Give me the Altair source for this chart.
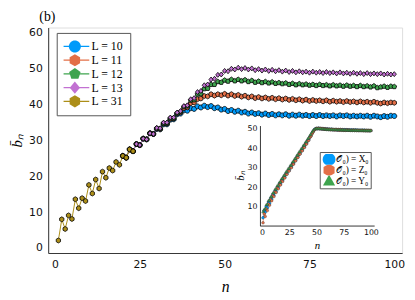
import altair as alt
import pandas as pd

# ---------------- main panel data ----------------
labels_main = ["L = 10", "L = 11", "L = 12", "L = 13", "L = 31"]
keys_main = ["10", "11", "12", "13", "31"]
colors_main = ["#009AFA", "#E36F47", "#3EA44E", "#C271D2", "#AC8E18"]

n_start_main = 20  # L = 10..13 drawn from n = 20 (hidden beneath L = 31 before)
b_L10 = [25.7, 25.2, 27.5, 27.0, 29.0, 28.7, 30.5, 30.3, 32.0, 31.8,
         33.2, 33.1, 34.5, 34.5, 35.8, 35.9, 37.3, 37.5, 38.4, 38.3,
         39.0, 38.8, 39.5, 39.2, 39.7, 39.3, 39.6, 39.0, 39.2, 38.6,
         38.8, 38.2, 38.5, 38.0, 38.3, 37.8, 38.0, 37.5, 37.8, 37.4,
         37.6, 37.2, 37.5, 37.1, 37.4, 37.0, 37.3, 37.0, 37.3, 36.9,
         37.2, 36.9, 37.2, 36.9, 37.1, 36.8, 37.1, 36.8, 37.1, 36.8,
         37.0, 36.8, 37.0, 36.7, 37.0, 36.8, 37.0, 36.7, 36.9, 36.7,
         36.9, 36.7, 36.9, 36.6, 36.9, 36.7, 36.5, 36.8, 36.6, 36.9,
         36.8]
b_L11 = [25.7, 25.2, 27.5, 27.0, 29.0, 28.7, 30.5, 30.3, 32.0, 31.8,
         33.3, 33.2, 34.7, 34.7, 36.0, 36.1, 37.5, 37.8, 39.0, 39.2,
         40.4, 40.6, 41.5, 41.7, 42.4, 42.3, 42.9, 42.5, 42.9, 42.6,
         43.0, 42.5, 42.9, 42.4, 42.7, 42.2, 42.5, 42.0, 42.3, 41.8,
         42.1, 41.7, 42.0, 41.6, 41.9, 41.5, 41.8, 41.4, 41.7, 41.3,
         41.6, 41.2, 41.5, 41.1, 41.4, 41.0, 41.3, 41.0, 41.2, 40.9,
         41.2, 40.8, 41.1, 40.8, 41.0, 40.7, 41.0, 40.7, 40.9, 40.6,
         40.9, 40.6, 40.8, 40.5, 40.8, 40.5, 40.3, 40.6, 40.4, 40.6,
         40.5]
b_L12 = [25.7, 25.2, 27.5, 27.0, 29.0, 28.7, 30.5, 30.3, 32.0, 31.8,
         33.4, 33.3, 34.8, 34.8, 36.2, 36.2, 37.6, 38.0, 39.4, 39.6,
         41.2, 41.3, 42.9, 43.0, 44.4, 44.5, 45.6, 45.6, 46.4, 46.2,
         46.8, 46.5, 47.0, 46.6, 47.0, 46.6, 46.9, 46.4, 46.7, 46.2,
         46.5, 46.1, 46.4, 46.0, 46.3, 45.9, 46.1, 45.8, 46.0, 45.6,
         45.9, 45.5, 45.8, 45.5, 45.7, 45.4, 45.6, 45.3, 45.6, 45.3,
         45.5, 45.2, 45.5, 45.2, 45.4, 45.1, 45.4, 45.1, 45.3, 45.0,
         45.3, 45.0, 45.2, 44.9, 45.2, 44.7, 44.9, 45.1, 44.8, 45.1,
         45.0]
b_L13 = [25.7, 25.2, 27.5, 27.0, 29.0, 28.7, 30.5, 30.3, 32.0, 31.8,
         33.5, 33.4, 35.0, 35.0, 36.4, 36.4, 37.8, 38.2, 39.6, 39.8,
         41.5, 41.8, 43.5, 43.8, 45.4, 45.6, 47.0, 47.2, 48.3, 48.4,
         49.4, 49.3, 50.0, 49.8, 50.3, 49.9, 50.2, 49.8, 50.1, 49.6,
         49.9, 49.5, 49.8, 49.4, 49.7, 49.3, 49.6, 49.2, 49.5, 49.1,
         49.4, 49.0, 49.3, 49.0, 49.2, 48.9, 49.2, 48.9, 49.1, 48.8,
         49.1, 48.8, 49.0, 48.7, 49.0, 48.7, 48.9, 48.6, 48.9, 48.6,
         48.8, 48.5, 48.8, 48.5, 48.7, 48.5, 48.7, 48.4, 48.6, 48.4,
         48.5]
b_L31 = [2.1, 8.0, 5.3, 9.1, 8.1, 13.6, 11.1, 13.9, 13.1, 17.6,
         15.2, 19.1, 16.6, 21.3, 19.6, 22.3, 21.6, 24.0, 23.2, 25.7,
         25.2, 27.5, 27.0]

# ---------------- inset data ----------------
labels_inset = ["𝒪₀) = X₀", "𝒪₀) = Z₀", "𝒪₀) = Y₀"]
colors_inset = ["#009AFA", "#E36F47", "#3EA44E"]
b_X = [4.5, 8.2, 7.4, 10.3, 9.6, 12.5, 11.8, 14.3, 13.9, 16.4,
       15.9, 18.2, 17.9, 20.0, 19.8, 21.8, 21.6, 23.5, 23.4, 25.2,
       25.1, 26.9, 26.9, 28.5, 28.6, 30.2, 30.3, 31.9, 32.0, 33.6,
       33.7, 35.3, 35.4, 37.0, 37.1, 38.7, 38.8, 40.4, 40.5, 42.1,
       42.3, 43.8, 44.2, 45.6, 46.2, 47.5, 48.4, 49.3, 49.7, 50.0,
       49.8, 50.1, 49.8, 50.0, 49.7, 49.9, 49.6, 49.8, 49.5, 49.7,
       49.4, 49.6, 49.4, 49.6, 49.3, 49.5, 49.3, 49.5, 49.2, 49.4,
       49.2, 49.4, 49.2, 49.3, 49.1, 49.3, 49.1, 49.3, 49.1, 49.2,
       49.0, 49.2, 49.0, 49.2, 49.0, 49.2, 49.0, 49.1, 48.9, 49.1,
       48.9, 49.1, 48.9, 49.1, 48.9, 49.0, 48.9, 49.0, 48.8, 49.0]
b_Z = [2.0, 6.6, 5.2, 9.1, 8.2, 11.6, 10.9, 13.8, 13.2, 15.9,
       15.3, 17.8, 17.4, 19.7, 19.3, 21.5, 21.2, 23.2, 23.0, 24.9,
       24.8, 26.6, 26.6, 28.3, 28.3, 30.0, 30.0, 31.7, 31.8, 33.4,
       33.5, 35.1, 35.2, 36.8, 36.9, 38.5, 38.6, 40.2, 40.3, 41.9,
       42.0, 43.6, 43.9, 45.4, 46.0, 47.3, 48.2, 49.2, 49.6, 50.0,
       49.9, 50.1, 49.8, 50.0, 49.7, 49.9, 49.6, 49.8, 49.5, 49.7,
       49.5, 49.6, 49.3, 49.6, 49.3, 49.4, 49.2, 49.5, 49.2, 49.4,
       49.1, 49.4, 49.1, 49.3, 49.1, 49.2, 49.0, 49.3, 49.0, 49.2,
       49.0, 49.1, 49.0, 49.2, 48.9, 49.1, 48.9, 49.1, 48.9, 49.0,
       48.9, 49.1, 48.8, 49.0, 48.8, 49.0, 48.8, 49.0, 48.8, 48.9]
b_Y = [7.6, 8.6, 9.4, 11.2, 11.4, 13.3, 13.4, 15.2, 15.3, 17.1,
       17.2, 19.0, 19.1, 20.8, 20.9, 22.6, 22.7, 24.4, 24.5, 26.1,
       26.2, 27.8, 27.9, 29.5, 29.6, 31.2, 31.3, 32.9, 33.0, 34.6,
       34.7, 36.3, 36.4, 38.0, 38.1, 39.7, 39.8, 41.4, 41.5, 43.1,
       43.2, 44.8, 45.1, 46.5, 47.0, 48.2, 48.9, 49.5, 49.8, 50.0,
       49.9, 50.0, 49.8, 49.9, 49.7, 49.8, 49.6, 49.7, 49.5, 49.6,
       49.4, 49.5, 49.4, 49.5, 49.3, 49.4, 49.3, 49.4, 49.2, 49.3,
       49.2, 49.3, 49.1, 49.3, 49.1, 49.2, 49.1, 49.2, 49.0, 49.2,
       49.0, 49.1, 49.0, 49.1, 49.0, 49.1, 48.9, 49.1, 48.9, 49.0,
       48.9, 49.0, 48.9, 49.0, 48.8, 49.0, 48.8, 48.9, 48.8, 48.9]

# ---------------- build tables ----------------
rows = []
for key, lab, vals, start in [("10", "L = 10", b_L10, n_start_main),
                              ("11", "L = 11", b_L11, n_start_main),
                              ("12", "L = 12", b_L12, n_start_main),
                              ("13", "L = 13", b_L13, n_start_main),
                              ("31", "L = 31", b_L31, 1)]:
    for i, v in enumerate(vals):
        rows.append({"n": start + i, "b": v, "key": key, "label": lab})
df_main = pd.DataFrame(rows)

rows = []
for lab, vals in zip(labels_inset, [b_X, b_Z, b_Y]):
    for i, v in enumerate(vals):
        rows.append({"n": 1 + i, "b": v, "op": lab})
df_inset = pd.DataFrame(rows)

# marker shapes drawn inside +-R so that the legend lines reach beyond them
R = 0.585
circ = f"M{R},0A{R},{R},0,1,1,-{R},0A{R},{R},0,1,1,{R},0Z"
hexa = (f"M0,-{R}L{0.866*R:.3f},-{0.5*R:.3f}L{0.866*R:.3f},{0.5*R:.3f}L0,{R}"
        f"L-{0.866*R:.3f},{0.5*R:.3f}L-{0.866*R:.3f},-{0.5*R:.3f}Z")
pent = (f"M0,-{R}L{0.951*R:.3f},-{0.309*R:.3f}L{0.588*R:.3f},{0.809*R:.3f}"
        f"L-{0.588*R:.3f},{0.809*R:.3f}L-{0.951*R:.3f},-{0.309*R:.3f}Z")
diam = f"M0,-{R}L{0.85*R:.3f},0L0,{R}L-{0.85*R:.3f},0Z"
shapes_main = [circ, hexa, pent, diam, hexa]
shapes_inset = ["M1,0A1,1,0,1,1,-1,0A1,1,0,1,1,1,0Z",
                "M0,-1L0.866,-0.5L0.866,0.5L0,1L-0.866,0.5L-0.866,-0.5Z",
                "M0,-1L0.95,0.7L-0.95,0.7Z"]
legend_line_path = "M-1.4,0H1.4"

TICK_FONT = "DejaVu Sans"
SERIF = "Liberation Serif"


def main_x(show):
    ax = alt.Axis(values=[0, 25, 50, 75, 100], title="n", ticks=False, orient="bottom",
                  labelPadding=6, labelFontSize=11, labelFont=TICK_FONT,
                  titleFont=SERIF, titleFontStyle="italic", titleFontSize=16,
                  titleFontWeight="normal", titlePadding=9, domainColor="#333",
                  labelColor="#111", grid=False) if show else None
    return alt.X("n:Q", scale=alt.Scale(domain=[-2, 102.3], nice=False, zero=False), axis=ax)


def main_y(show):
    ax = alt.Axis(values=[0, 10, 20, 30, 40, 50, 60], title="b̄ₙ", ticks=False, orient="left",
                  labelPadding=6, labelFontSize=11, labelFont=TICK_FONT,
                  titleFont=SERIF, titleFontStyle="italic", titleFontSize=15,
                  titleFontWeight="normal", titlePadding=4, domainColor="#333",
                  labelColor="#111", grid=False) if show else None
    return alt.Y("b:Q", scale=alt.Scale(domain=[-1.4, 61.5], nice=False, zero=False), axis=ax)


S_LEG = 441
line_legend = alt.Legend(orient="none", legendX=8.7, legendY=5.5, title=None,
                         symbolType=legend_line_path, symbolSize=S_LEG, symbolStrokeWidth=1.3,
                         labelFont=SERIF, labelFontSize=12, labelOpacity=0,
                         labelExpr="'L = ' + datum.label + '\u00a0\u00a0'",
                         labelOffset=5.6, rowPadding=0, padding=7, symbolOffset=0,
                         clipHeight=13.6,
                         strokeColor="#555", fillColor="white", cornerRadius=0)
point_legend = alt.Legend(orient="none", legendX=8.7, legendY=5.5, title=None,
                          symbolSize=S_LEG, symbolStrokeWidth=1.5, symbolStrokeColor="black",
                          labelFont=SERIF, labelFontSize=12, labelColor="black",
                          labelOffset=5.6, rowPadding=0, padding=7, symbolOffset=0,
                          clipHeight=13.6)

main_lines = alt.Chart(df_main).mark_line(strokeWidth=1).encode(
    x=main_x(True), y=main_y(True),
    color=alt.Color("key:N", scale=alt.Scale(domain=keys_main, range=colors_main),
                    legend=line_legend),
)
main_points = alt.Chart(df_main).mark_point(filled=True, stroke="black", strokeWidth=0.8,
                                            size=75, opacity=1).encode(
    x=main_x(False), y=main_y(False),
    fill=alt.Fill("label:N", scale=alt.Scale(domain=labels_main, range=colors_main),
                  legend=point_legend),
    shape=alt.Shape("label:N", scale=alt.Scale(domain=labels_main, range=shapes_main),
                    legend=point_legend),
)


def inset_x(show):
    ax = alt.Axis(orient="bottom", offset=-28, values=[0, 25, 50, 75, 100], title="n",
                  ticks=False, labelPadding=3, labelFontSize=8, labelFont=TICK_FONT,
                  titleFont=SERIF, titleFontStyle="italic", titleFontSize=11,
                  titleFontWeight="normal", titlePadding=3, domainColor="#333",
                  labelColor="#111", grid=False) if show else None
    return alt.X("n:Q", scale=alt.Scale(domain=[-2, 103], range=[215.8, 332.5], nice=False,
                                        zero=False), axis=ax)


def inset_y(show):
    ax = alt.Axis(orient="left", offset=-216, values=[10, 20, 30, 40, 50], title="b̄ₙ",
                  ticks=False, labelPadding=3, labelFontSize=8, labelFont=TICK_FONT,
                  titleFont=SERIF, titleFontStyle="italic", titleFontSize=11,
                  titleFontWeight="normal", titlePadding=2, domainColor="#333",
                  labelColor="#111", grid=False) if show else None
    return alt.Y("b:Q", scale=alt.Scale(domain=[0.56, 51.44], range=[202, 100], nice=False,
                                        zero=False), axis=ax)


inset_legend = alt.Legend(orient="none", legendX=277, legendY=127, title=None,
                          symbolSize=169, symbolStrokeWidth=1.2, symbolStrokeColor="black",
                          labelFont=SERIF, labelFontSize=9.5, labelColor="black",
                          labelExpr="datum.label + '\u00a0\u00a0'",
                          labelOffset=0, rowPadding=0, padding=2, symbolOffset=0,
                          clipHeight=11,
                          strokeColor="#555", fillColor="white", cornerRadius=0)

inset_lines = alt.Chart(df_inset).mark_line(strokeWidth=0.6).encode(
    x=inset_x(True), y=inset_y(True),
    color=alt.Color("op:N", scale=alt.Scale(domain=labels_inset, range=colors_inset), legend=None),
)
inset_points = alt.Chart(df_inset).mark_point(filled=True, stroke="#222", strokeWidth=0.3,
                                              size=9, opacity=1).encode(
    x=inset_x(False), y=inset_y(False),
    fill=alt.Fill("op:N", scale=alt.Scale(domain=labels_inset, range=colors_inset),
                  legend=inset_legend),
    shape=alt.Shape("op:N", scale=alt.Scale(domain=labels_inset, range=shapes_inset),
                    legend=inset_legend),
)

chart = alt.layer(main_lines, main_points, inset_lines, inset_points).resolve_scale(
    x="independent", y="independent", color="independent",
    fill="independent", shape="independent",
).resolve_legend(color="independent", fill="independent", shape="independent").properties(
    width=361, height=230,
    title=alt.TitleParams("(b)", anchor="start", frame="group", dx=-9, offset=3,
                          font=SERIF, fontSize=14, fontWeight="normal", color="black"),
    autosize=alt.AutoSizeParams(type="none"),
    padding={"left": 41, "top": 17, "right": 5, "bottom": 45},
).configure_view(stroke=None).configure(background="white")

chart.save("out.html", embed_options={"renderer": "svg", "actions": False})
